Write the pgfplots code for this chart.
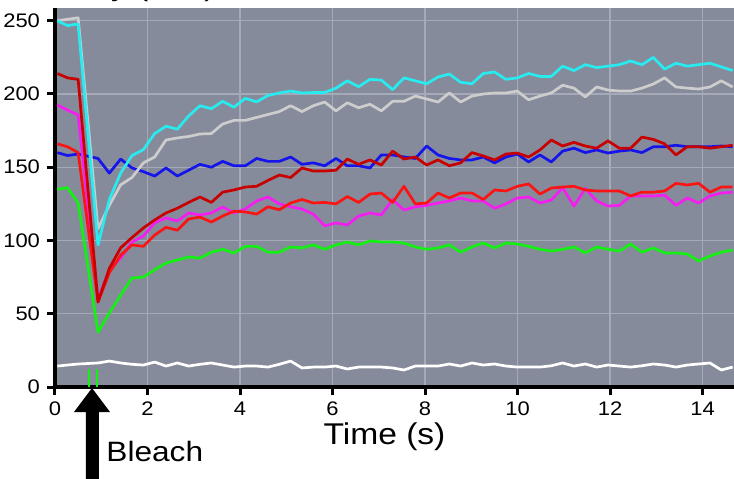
\documentclass[border=0pt]{standalone}
\usepackage{fontspec}
\setmainfont{Liberation Sans}
\usepackage{graphicx}
\usepackage{pgfplots}
\usepackage{pgfplotstable}
\pgfplotsset{compat=1.18}
\definecolor{bggray}{RGB}{134,139,156}
\definecolor{gridc}{RGB}{165,170,184}
\definecolor{cyanl}{RGB}{40,235,240}
\definecolor{grayl}{RGB}{205,205,205}
\definecolor{bluel}{RGB}{20,20,235}
\definecolor{dredl}{RGB}{200,0,0}
\definecolor{redl}{RGB}{250,20,20}
\definecolor{magl}{RGB}{245,30,240}
\definecolor{greenl}{RGB}{20,240,20}

\pgfplotstableread{
t cyan gray blue dred red mag green white
0.05 250 250 160 214 166 192.5 135 14.3
0.27 246.7 251 158 211 164 189 136 15
0.50 247.8 252 159 210 160 185.7 125.6 15.7
0.93 97 108 156 58 58 60 37.5 16.4
1.175 128 124 146 81 78 80 50.5 17.7
1.42 146 138 155.6 95 90 88 62.8 16.4
1.665 158 143 149.5 102 97 99 74.4 15.5
1.91 162 153 147 108.5 96 103 75 15
2.155 173 157 144 114 103.7 112 80 17
2.40 178 168.6 149.5 118.8 109 115.4 84.6 14.3
2.645 176 170 144 122 107 113.3 86.7 16.4
2.89 185 171 148 126 114.7 118.8 88.7 14.3
3.135 192 172.7 152 129.7 116 117.4 88 15.5
3.38 190 173 150 126 112.6 118.8 92 16.4
3.625 195 179.5 154 133 116.7 122.9 94 15
3.87 191 182 151 134.5 120 118.8 91.5 13.6
4.115 197 182 151 136.5 119.5 121.5 96 14.3
4.36 194.6 184 156 137 118 127 96 14.3
4.605 199 186 154 141 123 129.7 92 13.6
4.85 200.7 188 154 144.7 121 125 92 15.5
5.095 202 192 157 143 125.6 123 95.6 17.7
5.34 200.7 188 152 149.5 128 121.5 94.9 13
5.585 201 192 153 147.4 125.6 118 97 13.6
5.83 201 194.5 151 147.4 126 110 94 13.6
6.075 204 188.5 156 148 125 112 97 14.3
6.32 209 194 151 155.6 130 110.6 99 12.3
6.565 205 190.6 151 152 126 116.7 97 13.6
6.81 210 193 149.5 155 131.7 118.8 99.7 13.6
7.055 209.5 188.5 158.4 151.5 132.4 117.4 99 13.6
7.30 203 195 158.4 161 126 128 99 13
7.545 211 195 157 155.6 137 120.8 98.3 11.6
7.79 209 198.6 156 157 125 123 95.6 14.3
8.035 207 196.6 164.5 151.5 125.6 124 94 14.3
8.28 211.6 194.5 158.4 155 132.4 125.6 94.9 14.3
8.525 213.6 200.7 156 151 129 127 97 15.7
8.77 208 194.5 155 153 132.4 129 92 14.3
9.015 207 198.6 155 160 132.4 127 95.6 16.4
9.26 214 200 157 157.7 128 127 98.3 15
9.505 215 200.7 153 155 134.5 122 94.9 15.7
9.75 210 200.7 157 159 133.8 125 98.3 14.3
9.995 211 202 159 159.7 137 129 97.6 13.6
10.24 214 196 153.6 157 138.6 129.7 96 13.6
10.485 212 198.6 158.4 161.8 131.7 125.6 94 13.6
10.73 212 200.7 153.6 168.6 135.8 127.6 92.8 14.5
10.975 219 206 161 164.5 136.5 136 94 16.4
11.22 216 204 163 167 137 123.5 95.6 14.3
11.465 220 198 160 164.5 134.5 135.5 91.5 15.7
11.71 218 204.8 161.8 163 133.8 127 95.6 13.6
11.955 219 202.7 159.7 168 133.8 123.5 94 15
12.20 220 202 161 163 133.8 124 92.8 14.3
12.445 222.5 202 161.8 163 130.4 130.4 97.6 13.6
12.69 220 204 160 170.6 133 130.4 92 14.5
12.935 225 206.8 164 169 133 130.4 94.9 15.7
13.18 217 211 164 166 133.8 131 91.5 15
13.425 221 204.8 165 158.4 139 124 91.5 13.6
13.67 219 204 164 164 137.9 129 90.8 15
13.915 220 203.4 164 164 139 125.6 86 15.7
14.16 221 204.8 164 163 133 130.4 89.4 16.4
14.405 218.5 209 164.5 164 136.5 132.4 92 11.6
14.65 216 204.8 164 165 136.5 133 93.5 13.6
}\data

\begin{document}
\begin{tikzpicture}
\useasboundingbox (-27.5pt,-45.5pt) rectangle (339.5pt,193.5pt);
\clip (-27.5pt,-45.5pt) rectangle (339.5pt,193.5pt);
\begin{axis}[
  at={(0pt,0pt)}, anchor=south west,
  scale only axis, width=339.5pt, height=189.5pt,
  xmin=0, xmax=14.68, ymin=0, ymax=258.7,
  axis lines=left,
  axis line style={-, line width=2pt, black},
  xtick={0,2,...,14}, ytick={0,50,...,250},
  tick align=outside, major tick length=4pt,
  tick style={line width=1.5pt, black},
  grid=major, grid style={gridc, line width=0.6pt},
  axis background/.style={fill=bggray},
  /pgf/number format/assume math mode=true,
  ticklabel style={font=\fontsize{9.8}{11}\selectfont},
  xticklabel={\scalebox{1.12}[1]{\pgfmathprintnumber{\tick}}},
  yticklabel={\scalebox{1.12}[1]{\pgfmathprintnumber{\tick}}},
  every axis plot/.append style={line width=1.35pt, line join=round},
]
\addplot[white] table[x=t, y=white] {\data};
\addplot[greenl] table[x=t, y=green] {\data};
\addplot[bluel] table[x=t, y=blue] {\data};
\addplot[magl] table[x=t, y=mag] {\data};
\addplot[redl] table[x=t, y=red] {\data};
\addplot[dredl] table[x=t, y=dred] {\data};
\addplot[grayl] table[x=t, y=gray] {\data};
\addplot[cyanl] table[x=t, y=cyan] {\data};
\addplot[greenl, line width=0.9pt] coordinates {(0.74,0) (0.74,12)};
\addplot[greenl, line width=0.9pt] coordinates {(0.91,0) (0.91,12)};
\end{axis}
\fill[black] (18.5pt,-0.5pt) -- (27.5pt,-12.5pt) -- (22pt,-12.5pt) -- (22pt,-50pt) -- (15.5pt,-50pt) -- (15.5pt,-12.5pt) -- (9.5pt,-12.5pt) -- cycle;
\node[anchor=base west, inner sep=0pt, font=\fontsize{14}{16}\selectfont] at (25.5pt,-37.4pt) {\scalebox{1.13}[1]{Bleach}};
\node[anchor=base, inner sep=0pt, font=\fontsize{15}{17}\selectfont] at (164.75pt,-28.5pt) {\scalebox{1.12}[1]{Time (s)}};
\node[anchor=base east, inner sep=0pt, font=\fontsize{15}{17}\selectfont] at (80.5pt,196pt) {\scalebox{1.12}[1]{Intensity (a.u.)}};
\end{tikzpicture}
\end{document}
